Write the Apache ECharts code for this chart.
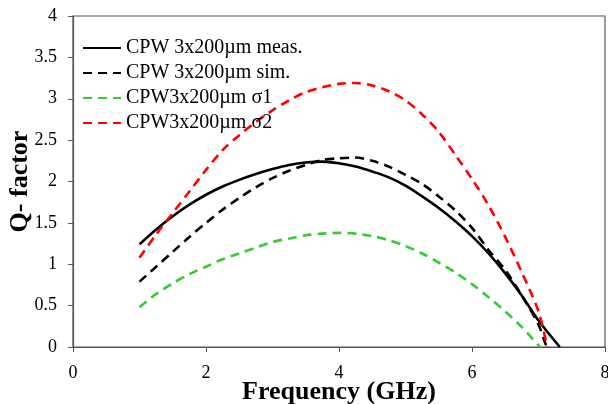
<!DOCTYPE html>
<html>
<head>
<meta charset="utf-8">
<script src="https://cdn.jsdelivr.net/npm/echarts@6/dist/echarts.min.js"></script>
<style>html,body{margin:0;padding:0;background:#fff}#c{width:608px;height:404px}</style>
</head>
<body>
<div id="c"></div>
<script>
var seriesNames = ['CPW 3x200\u00b5m meas.', 'CPW 3x200\u00b5m sim.', 'CPW3x200\u00b5m \u03c31', 'CPW3x200\u00b5m \u03c32'];

var freqMeas = [1.0, 1.25, 1.5, 1.75, 2.0, 2.25, 2.5, 2.75, 3.0, 3.25, 3.5, 3.75, 4.0, 4.25, 4.5, 4.75, 5.0, 5.25, 5.5, 5.75, 6.0, 6.25, 6.5, 6.75, 7.0, 7.32];
var qMeas    = [1.24, 1.42, 1.58, 1.72, 1.84, 1.94, 2.02, 2.09, 2.15, 2.20, 2.23, 2.24, 2.22, 2.18, 2.12, 2.05, 1.95, 1.82, 1.68, 1.52, 1.34, 1.13, 0.89, 0.62, 0.32, 0.0];

var freqSim = [1.0, 1.25, 1.5, 1.75, 2.0, 2.25, 2.5, 2.75, 3.0, 3.25, 3.5, 3.75, 4.0, 4.25, 4.5, 4.75, 5.0, 5.25, 5.5, 5.75, 6.0, 6.25, 6.5, 6.75, 7.0, 7.12];
var qSim    = [0.79, 0.97, 1.15, 1.33, 1.50, 1.66, 1.80, 1.93, 2.04, 2.13, 2.20, 2.26, 2.28, 2.29, 2.25, 2.18, 2.08, 1.97, 1.82, 1.65, 1.44, 1.17, 0.93, 0.62, 0.27, 0.0];

var freqS1 = [1.0, 1.25, 1.5, 1.75, 2.0, 2.25, 2.5, 2.75, 3.0, 3.25, 3.5, 3.75, 4.0, 4.25, 4.5, 4.75, 5.0, 5.25, 5.5, 5.75, 6.0, 6.25, 6.5, 6.75, 7.02];
var qS1    = [0.48, 0.64, 0.77, 0.88, 0.97, 1.06, 1.13, 1.20, 1.27, 1.31, 1.35, 1.37, 1.38, 1.37, 1.34, 1.29, 1.22, 1.13, 1.02, 0.90, 0.76, 0.60, 0.43, 0.24, 0.0];

var freqS2 = [1.0, 1.25, 1.5, 1.75, 2.0, 2.25, 2.5, 2.75, 3.0, 3.25, 3.5, 3.75, 4.0, 4.25, 4.5, 4.75, 5.0, 5.25, 5.5, 5.75, 6.0, 6.25, 6.5, 6.75, 7.0, 7.13];
var qS2    = [1.08, 1.36, 1.62, 1.88, 2.14, 2.38, 2.56, 2.72, 2.86, 2.98, 3.08, 3.14, 3.18, 3.19, 3.16, 3.09, 2.98, 2.81, 2.60, 2.32, 2.03, 1.71, 1.33, 0.90, 0.43, 0.0];

var xTicks = {min: 0, max: 8, interval: 2};
var yTicks = {min: 0, max: 4, interval: 0.5};

function pairs(xs, ys) { return xs.map(function (x, i) { return [x, ys[i]]; }); }

var FONT = 'Liberation Serif';
function lineSeries(i, xs, ys, color, dash) {
  return {
    name: seriesNames[i], type: 'line', smooth: 0.3, symbol: 'none',
    lineStyle: {color: color, width: 2.6, type: dash}, itemStyle: {color: color},
    data: pairs(xs, ys)
  };
}
var chart = echarts.init(document.getElementById('c'), null, {renderer: 'canvas'});
chart.setOption({
  animation: false,
  backgroundColor: '#fff',
  grid: {left: 73, right: 3, top: 16, bottom: 57, containLabel: false, outerBoundsMode: 'none',
         show: true, borderColor: '#555', borderWidth: 1.2},
  legend: {
    left: 77, top: 33, orient: 'vertical', padding: 5,
    itemWidth: 38, itemHeight: 14, itemGap: 5,
    itemStyle: {opacity: 0},
    textStyle: {fontFamily: FONT, fontSize: 20, color: '#000'},
    data: seriesNames
  },
  xAxis: {
    type: 'value', min: xTicks.min, max: xTicks.max, interval: xTicks.interval,
    name: 'Frequency (GHz)', nameLocation: 'middle', nameGap: 32, nameMoveOverlap: false,
    nameTextStyle: {fontFamily: FONT, fontSize: 26, fontWeight: 'bold', color: '#000'},
    axisLine: {lineStyle: {color: '#555', width: 1.2}},
    axisTick: {show: true, inside: false, length: 5, lineStyle: {color: '#555'}},
    axisLabel: {fontFamily: FONT, fontSize: 18, color: '#000', margin: 17},
    splitLine: {show: false}
  },
  yAxis: {
    type: 'value', min: yTicks.min, max: yTicks.max, interval: yTicks.interval,
    name: 'Q- factor', nameLocation: 'middle', nameGap: 40, nameRotate: 90, nameMoveOverlap: false,
    nameTextStyle: {fontFamily: FONT, fontSize: 26, fontWeight: 'bold', color: '#000'},
    axisLine: {lineStyle: {color: '#555', width: 1.2}},
    axisTick: {show: true, inside: false, length: 5, lineStyle: {color: '#555'}},
    axisLabel: {fontFamily: FONT, fontSize: 18, color: '#000', margin: 16},
    splitLine: {show: false}
  },
  series: [
    lineSeries(0, freqMeas, qMeas, '#000', 'solid'),
    lineSeries(1, freqSim, qSim, '#000', [9, 6]),
    lineSeries(2, freqS1, qS1, '#33cc33', [9, 6]),
    lineSeries(3, freqS2, qS2, '#ff0000', [9, 6])
  ]
});
</script>
</body>
</html>
